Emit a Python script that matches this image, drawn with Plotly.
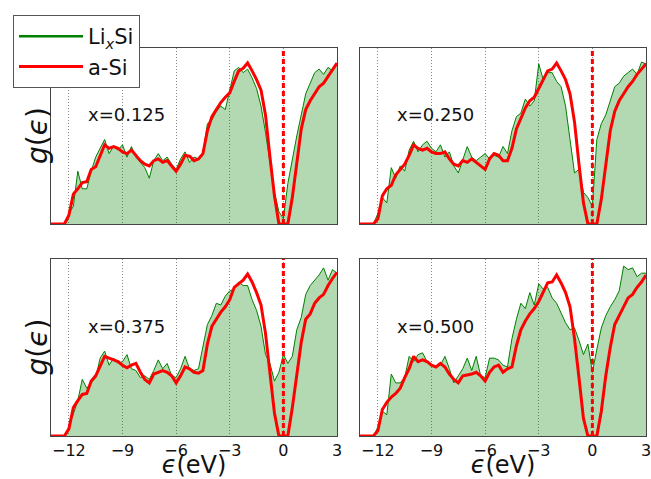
import plotly.graph_objects as go

# energy grid (eV)
E = [-13, -12.75, -12.5, -12.25, -12, -11.75, -11.5, -11.25, -11, -10.75, -10.5, -10.25,
     -10, -9.75, -9.5, -9.25, -9, -8.75, -8.5, -8.25, -8, -7.75, -7.5, -7.25,
     -7, -6.75, -6.5, -6.25, -6, -5.75, -5.5, -5.25, -5, -4.75, -4.5, -4.25,
     -4, -3.75, -3.5, -3.25, -3, -2.75, -2.5, -2.25, -2, -1.75, -1.5, -1.25,
     -1, -0.75, -0.5, -0.25, 0, 0.25, 0.5, 0.75, 1, 1.25, 1.5, 1.75,
     2, 2.25, 2.5, 2.75, 3]

# x = 0.125
lix_0125 = [0, 0, 0, 0, 0.06, 0.10, 0.30, 0.20, 0.20, 0.30, 0.38, 0.43,
            0.48, 0.40, 0.44, 0.42, 0.45, 0.38, 0.44, 0.38, 0.35, 0.32, 0.26, 0.36,
            0.40, 0.36, 0.38, 0.34, 0.31, 0.37, 0.41, 0.35, 0.38, 0.37, 0.40, 0.57,
            0.59, 0.64, 0.67, 0.65, 0.76, 0.87, 0.89, 0.86, 0.88, 0.83, 0.77, 0.67,
            0.52, 0.36, 0.18, 0.07, 0.03, 0.23, 0.37, 0.50, 0.62, 0.74, 0.80, 0.86,
            0.88, 0.85, 0.89, 0.87, 0.91]
asi_0125 = [0, 0, 0, 0, 0.05, 0.17, 0.20, 0.235, 0.24, 0.31, 0.325, 0.39,
            0.45, 0.43, 0.44, 0.43, 0.41, 0.40, 0.42, 0.39, 0.36, 0.34, 0.33, 0.36,
            0.37, 0.35, 0.36, 0.33, 0.30, 0.34, 0.39, 0.385, 0.36, 0.37, 0.40, 0.53,
            0.61, 0.65, 0.69, 0.72, 0.745, 0.81, 0.87, 0.885, 0.915, 0.87, 0.82, 0.76,
            0.62, 0.38, 0.16, 0, 0, 0, 0.15, 0.36, 0.54, 0.65, 0.70, 0.74,
            0.78, 0.80, 0.84, 0.88, 0.915]

# x = 0.250
lix_0250 = [0, 0, 0, 0, 0.06, 0.15, 0.12, 0.32, 0.26, 0.33, 0.30, 0.42,
            0.47, 0.41, 0.45, 0.47, 0.43, 0.41, 0.45, 0.38, 0.41, 0.33, 0.29, 0.37,
            0.44, 0.38, 0.36, 0.38, 0.40, 0.37, 0.39, 0.38, 0.44, 0.40, 0.53, 0.61,
            0.63, 0.71, 0.67, 0.70, 0.91, 0.82, 0.86, 0.86, 0.81, 0.78, 0.67, 0.48,
            0.29, 0.31, 0.18, 0.15, 0.10, 0.48, 0.57, 0.62, 0.70, 0.78, 0.80, 0.84,
            0.86, 0.88, 0.85, 0.92, 0.91]
asi_0250 = [0, 0, 0, 0, 0.03, 0.16, 0.20, 0.22, 0.28, 0.31, 0.34, 0.39,
            0.45, 0.43, 0.42, 0.43, 0.41, 0.40, 0.40, 0.41, 0.37, 0.34, 0.33, 0.36,
            0.35, 0.37, 0.35, 0.33, 0.31, 0.37, 0.40, 0.39, 0.36, 0.36, 0.43, 0.54,
            0.60, 0.66, 0.70, 0.72, 0.77, 0.82, 0.87, 0.88, 0.915, 0.87, 0.82, 0.74,
            0.58, 0.34, 0.12, 0, 0, 0, 0.14, 0.34, 0.53, 0.64, 0.70, 0.74,
            0.78, 0.81, 0.85, 0.88, 0.91]

# x = 0.375
lix_0375 = [0, 0, 0, 0, 0.05, 0.13, 0.20, 0.32, 0.27, 0.30, 0.33, 0.44,
            0.48, 0.40, 0.44, 0.41, 0.42, 0.46, 0.38, 0.37, 0.33, 0.34, 0.32, 0.37,
            0.43, 0.38, 0.41, 0.34, 0.33, 0.38, 0.45, 0.38, 0.37, 0.38, 0.50, 0.63,
            0.68, 0.75, 0.74, 0.79, 0.82, 0.83, 0.87, 0.85, 0.85, 0.77, 0.71, 0.62,
            0.46, 0.41, 0.31, 0.36, 0.46, 0.41, 0.45, 0.60, 0.67, 0.80, 0.85, 0.88,
            0.91, 0.95, 0.88, 0.94, 0.92]
asi_0375 = [0, 0, 0, 0, 0.04, 0.16, 0.20, 0.235, 0.24, 0.31, 0.34, 0.40,
            0.45, 0.44, 0.43, 0.42, 0.40, 0.385, 0.40, 0.41, 0.36, 0.32, 0.30, 0.35,
            0.36, 0.37, 0.36, 0.34, 0.30, 0.34, 0.39, 0.38, 0.36, 0.355, 0.37, 0.52,
            0.62, 0.66, 0.70, 0.73, 0.77, 0.84, 0.86, 0.88, 0.915, 0.87, 0.81, 0.74,
            0.58, 0.37, 0.13, 0, 0, 0, 0.16, 0.35, 0.53, 0.66, 0.69, 0.75,
            0.78, 0.80, 0.85, 0.89, 0.925]

# x = 0.500
lix_0500 = [0, 0, 0, 0, 0.05, 0.14, 0.12, 0.35, 0.30, 0.30, 0.33, 0.45,
            0.42, 0.46, 0.47, 0.42, 0.40, 0.39, 0.40, 0.45, 0.38, 0.30, 0.34, 0.38,
            0.44, 0.37, 0.45, 0.34, 0.33, 0.44, 0.44, 0.43, 0.40, 0.39, 0.55, 0.66,
            0.75, 0.72, 0.81, 0.74, 0.86, 0.83, 0.84, 0.78, 0.75, 0.69, 0.64, 0.60,
            0.61, 0.54, 0.46, 0.52, 0.36, 0.49, 0.61, 0.68, 0.73, 0.77, 0.82, 0.96,
            0.94, 0.95, 0.90, 0.92, 0.92]
asi_0500 = [0, 0, 0, 0, 0.03, 0.15, 0.19, 0.22, 0.24, 0.27, 0.33, 0.38,
            0.45, 0.42, 0.43, 0.42, 0.40, 0.39, 0.41, 0.39, 0.35, 0.32, 0.30, 0.34,
            0.345, 0.35, 0.36, 0.34, 0.31, 0.36, 0.39, 0.40, 0.36, 0.38, 0.39, 0.51,
            0.60, 0.65, 0.69, 0.72, 0.76, 0.81, 0.865, 0.87, 0.91, 0.865, 0.81, 0.73,
            0.55, 0.33, 0.10, 0, 0, 0, 0.14, 0.34, 0.50, 0.63, 0.68, 0.73,
            0.78, 0.80, 0.84, 0.87, 0.91]

panel_labels = ["x=0.125", "x=0.250", "x=0.375", "x=0.500"]
tick_vals = [-12, -9, -6, -3, 0, 3]
tick_text = ["\u221212", "\u22129", "\u22126", "\u22123", "0", "3"]

panels = [(lix_0125, asi_0125), (lix_0250, asi_0250),
          (lix_0375, asi_0375), (lix_0500, asi_0500)]

W, H = 651, 479
x_domains = [[51 / W, 337 / W], [360 / W, 646 / W]]
y_domains = [[1 - 224 / H, 1 - 48 / H], [1 - 436 / H, 1 - 259 / H]]

FONT = "DejaVu Sans"
fig = go.Figure()

# legend-only entry for the Li_xSi line
fig.add_trace(go.Scatter(x=[None], y=[None], mode="lines",
                         line=dict(color="#008000", width=2.5),
                         name="Li<sub><i>x</i></sub>Si", showlegend=True))

shapes = []
annotations = []
for i, (lix, asi) in enumerate(panels):
    sfx = "" if i == 0 else str(i + 1)
    xa, ya = "x" + sfx, "y" + sfx
    fig.add_trace(go.Scatter(x=E, y=lix, mode="lines",
                             line=dict(color="#008000", width=1),
                             fill="tozeroy", fillcolor="rgba(0,128,0,0.3)",
                             xaxis=xa, yaxis=ya, showlegend=False, hoverinfo="skip"))
    fig.add_trace(go.Scatter(x=E, y=asi, mode="lines",
                             line=dict(color="#ff0000", width=3),
                             name="a-Si", showlegend=(i == 0),
                             xaxis=xa, yaxis=ya))
    shapes.append(dict(type="line", xref=xa, yref=ya + " domain",
                       x0=0, x1=0, y0=0, y1=1,
                       line=dict(color="#ff0000", width=3, dash="5px,3px")))
    annotations.append(dict(xref=xa, yref=ya, x=-8.75, y=0.62,
                            text=panel_labels[i], showarrow=False,
                            font=dict(family=FONT, size=18, color="#111")))
    row, col = i // 2, i % 2
    bottom = row == 1
    if col == 0:
        # y-axis label g(eps), placed beside the panel
        annotations.append(dict(xref="paper", yref=ya + " domain",
                                x=37 / W, y=0.5, xanchor="center", yanchor="middle",
                                text="<i>g</i>(<i>\u03f5</i>)", textangle=-90,
                                showarrow=False,
                                font=dict(family=FONT, size=28, color="#111")))
    xaxis = dict(domain=x_domains[col], anchor=ya, range=[-13, 3],
                 tickmode="array", tickvals=tick_vals, ticktext=tick_text,
                 showticklabels=bottom, ticks="", automargin=False,
                 ticklabeloverflow="allow",
                 tickfont=dict(family=FONT, size=16, color="#111"),
                 showgrid=True, gridcolor="#888", gridwidth=1, griddash="1px,2px",
                 zeroline=False, showline=True, mirror=True,
                 linecolor="#444", linewidth=1)
    if bottom:
        xaxis["title"] = dict(text="<i>\u03f5</i>(eV)",
                              font=dict(family=FONT, size=24, color="#111"),
                              standoff=3)
    yaxis = dict(domain=y_domains[row], anchor=xa, range=[0, 1], automargin=False,
                 showticklabels=False, ticks="", showgrid=False, zeroline=False,
                 showline=True, mirror=True, linecolor="#444", linewidth=1)
    fig.update_layout(**{"xaxis" + sfx: xaxis, "yaxis" + sfx: yaxis})

fig.update_layout(
    width=W, height=H,
    margin=dict(l=0, r=0, t=0, b=0, autoexpand=False),
    paper_bgcolor="white", plot_bgcolor="white",
    font=dict(family=FONT, color="#111"),
    shapes=shapes, annotations=annotations,
    legend=dict(x=13 / W, y=1 - 15 / H, xanchor="left", yanchor="top",
                bgcolor="white", bordercolor="#555", borderwidth=1,
                font=dict(family=FONT, size=21, color="#111"),
                itemwidth=64, tracegroupgap=0),
)

fig.write_html("out.html", config={"displayModeBar": False},
               post_script="document.body.style.margin='0';"
                           "document.body.style.padding='0';")
